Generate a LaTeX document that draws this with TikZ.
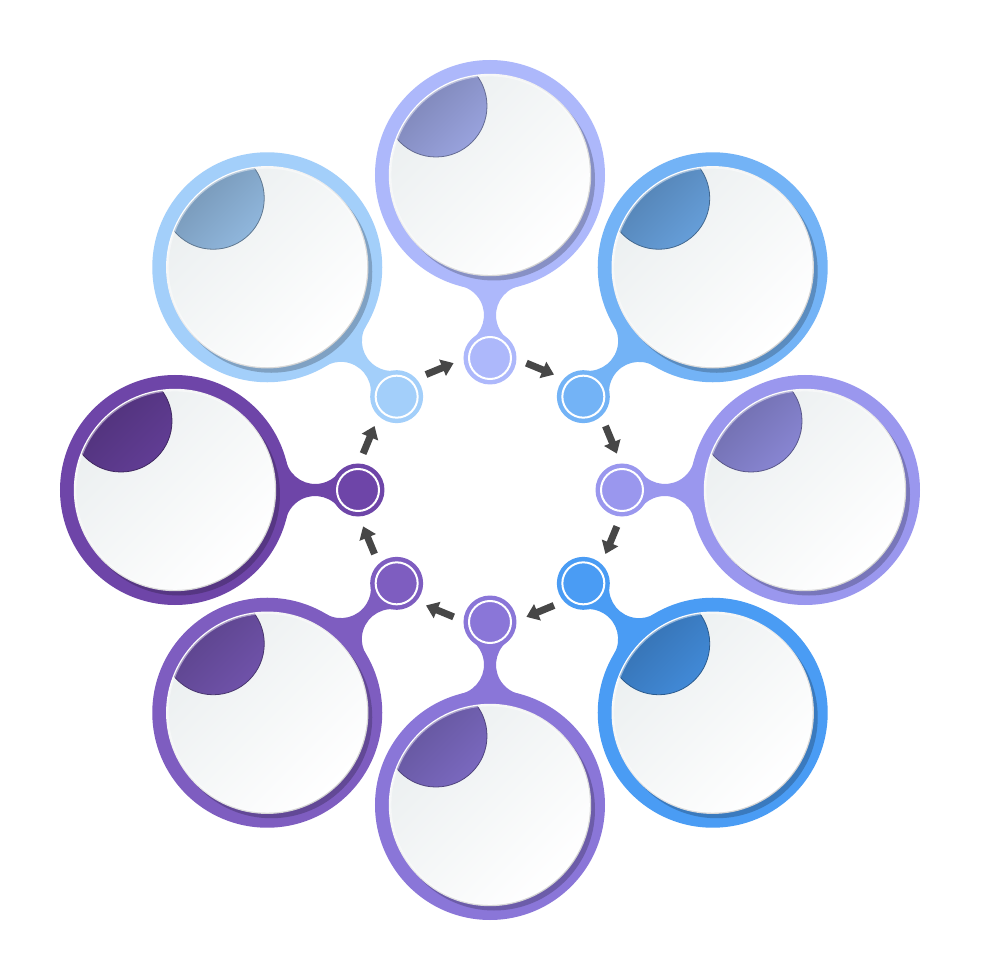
\documentclass[tikz,border=0pt]{standalone}
\usetikzlibrary{arrows.meta,calc}
\definecolor{c1}{HTML}{ADB8FB}
\definecolor{c2}{HTML}{73B3F6}
\definecolor{c3}{HTML}{9A97EE}
\definecolor{c4}{HTML}{4A9CF4}
\definecolor{c5}{HTML}{8A76D8}
\definecolor{c6}{HTML}{7E5DC0}
\definecolor{c7}{HTML}{6E45A8}
\definecolor{c8}{HTML}{A3CFFA}
\definecolor{innerA}{HTML}{EBEFF0}
\definecolor{arrowgray}{HTML}{474747}
\tikzset{
  bigdisc/.style={circle, inner sep=0pt, minimum size=230pt, fill=#1},
  smalldisc/.style={circle, inner sep=0pt, minimum size=53pt, fill=#1},
  flow/.style={line width=7pt, arrowgray, -{Triangle[length=12pt,width=17pt]}},
}
\begin{document}
\begin{tikzpicture}[x=1pt,y=1pt]
\useasboundingbox (-490,-490) rectangle (490,490);
\fill[white] (-490,-490) rectangle (490,490);
\foreach \a/\c/\i in {90/c1/1, 45/c2/2, 0/c3/3, -45/c4/4, -90/c5/5, -135/c6/6, 180/c7/7, 135/c8/8}{
  \begin{scope}[shift={(\a:315)}, rotate=\a-90]
    \fill[\c] (28.55,-111.2) arc[start angle=104.4, end angle=229.9, radius=30]
      -- (-16.7,-163.1) arc[start angle=-49.9, end angle=75.6, radius=30] -- cycle;
  \end{scope}
  \node[bigdisc=\c] (b\i) at (\a:315) {};
  \node[smalldisc=\c] (s\i) at (\a:132) {};
  \begin{scope}[shift={(\a:315)}]
    \fill[\c!78!black] (4,-4.5) circle (101);
    \shade[top color=white, bottom color=black!18, shading angle=45] (0,0) circle (101.2);
    \shade[top color=innerA, bottom color=white, shading angle=45] (0,0) circle (99.8);
    \begin{scope}
      \clip (0,0) circle (99.8);
      \shade[top color=\c!68!black, bottom color=\c!88!black, shading angle=45] (-54,69) circle (51);
      \draw[\c!58!black, line width=0.8pt] (-54,69) circle (51);
    \end{scope}
    \draw[white, opacity=0.45, line width=1.4pt] (0,0) circle (99.3);
  \end{scope}
  \draw[white, line width=2pt] (s\i) circle (21);
}
\foreach \m/\k in {112.5/1, 67.5/2, 22.5/3, -22.5/4, -67.5/5, -112.5/6, -157.5/7, 157.5/8}{
  \coordinate (p\k) at (\m+6.5:132);
  \coordinate (q\k) at (\m-6.5:132);
  \draw[flow] (p\k) -- (q\k);
}
\end{tikzpicture}
\end{document}
